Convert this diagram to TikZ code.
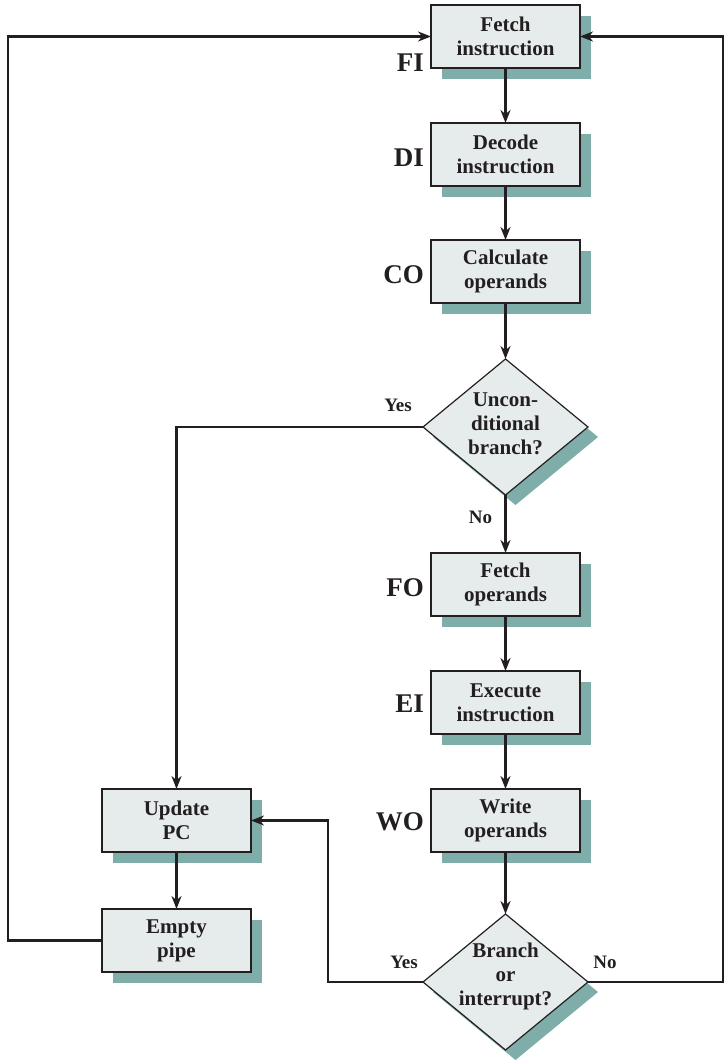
\documentclass[tikz,border=0pt]{standalone}
\usepackage{fontspec}
\setmainfont{Liberation Serif}
\usetikzlibrary{positioning, shapes.geometric, shadows, arrows.meta}
\definecolor{boxfill}{HTML}{E6ECEC}
\definecolor{shade}{HTML}{7FADA9}
\definecolor{ink}{HTML}{231F20}

\begin{document}
\begin{tikzpicture}[
    x=1pt, y=-1pt,
    box/.style={rectangle, draw=ink, line width=1.2pt, fill=boxfill,
                minimum width=149pt, minimum height=63pt, inner sep=0pt,
                outer sep=0pt, align=center, text=ink,
                font=\fontsize{21}{24}\selectfont\bfseries,
                drop shadow={shadow xshift=11pt, shadow yshift=-11pt,
                             fill=shade, opacity=1}},
    decision/.style={diamond, draw=ink, line width=1.2pt, fill=boxfill,
                minimum width=165pt, minimum height=136pt, inner sep=0pt,
                outer sep=0pt,
                drop shadow={shadow xshift=10pt, shadow yshift=-10pt,
                             fill=shade, opacity=1}},
    dtext/.style={align=center, text=ink, inner sep=0pt,
                font=\fontsize{21}{24}\selectfont\bfseries},
    stage/.style={font=\fontsize{27}{27}\selectfont\bfseries, text=ink,
                inner sep=0pt},
    answer/.style={font=\fontsize{19}{19}\selectfont\bfseries, text=ink,
                inner sep=0pt},
    arrow/.style={-{Stealth[length=13pt, width=10pt]}, line width=2.6pt,
                draw=ink},
]
\useasboundingbox (0,0) rectangle (725,1062);

% main column
\node[box] (fetchi) at (505.5,36.5) {Fetch\\instruction};
\node[box, below=55pt of fetchi] (decodei) {Decode\\instruction};
\node[box, below=54pt of decodei] (calcop) {Calculate\\operands};
\node[decision, below=56pt of calcop,
      label={[dtext, yshift=3pt]center:Uncon-\\ditional\\branch?}] (uncond) {};
\node[box, below=58pt of uncond] (fetcho) {Fetch\\operands};
\node[box, below=55pt of fetcho] (execi) {Execute\\instruction};
\node[box, below=55pt of execi] (writeo) {Write\\operands};
\node[decision, below=62pt of writeo,
      label={[dtext, yshift=6pt]center:Branch\\or\\interrupt?}] (brint) {};

% side column
\node[box, left=180pt of writeo] (updpc) {Update\\PC};
\node[box, below=57pt of updpc] (emptyp) {Empty\\pipe};

% stage labels
\node[stage, anchor=base east] (filab) at ([xshift=-7pt, yshift=-4pt]fetchi.south west) {FI};
\node[stage, anchor=east] (dilab) at ([xshift=-7pt, yshift=-3pt]decodei.west) {DI};
\node[stage, anchor=east] (colab) at ([xshift=-7pt, yshift=-3pt]calcop.west) {CO};
\node[stage, anchor=east] (folab) at ([xshift=-7pt, yshift=-3pt]fetcho.west) {FO};
\node[stage, anchor=east] (eilab) at ([xshift=-7pt, yshift=-1pt]execi.west) {EI};
\node[stage, anchor=east] (wolab) at ([xshift=-7pt, yshift=-1pt]writeo.west) {WO};

% turning points
\coordinate[left=94pt of emptyp.west] (lfturn);
\coordinate[right=135pt of brint.east] (rtturn);
\coordinate[left=95pt of brint.west] (midturn);

\draw[arrow] (fetchi) -- (decodei);
\draw[arrow] (decodei) -- (calcop);
\draw[arrow] (calcop) -- (uncond);
\draw[arrow] (uncond) -- node[answer, pos=0.38, left=12pt] {No} (fetcho);
\draw[arrow] (fetcho) -- (execi);
\draw[arrow] (execi) -- (writeo);
\draw[arrow] (writeo) -- (brint);

\draw[arrow] (uncond.west) node[answer, anchor=south east, xshift=-10pt, yshift=14pt] {Yes}
    -| (updpc.north);
\draw[arrow] (updpc) -- (emptyp);
\draw[arrow] (emptyp.west) -- (lfturn) |- (fetchi.west);
\draw[arrow] (brint.west) node[answer, anchor=south east, xshift=-4pt, yshift=12pt] {Yes}
    -- (midturn) |- (updpc.east);
\draw[arrow] (brint.east) node[answer, anchor=south west, xshift=4pt, yshift=12pt] {No}
    -- (rtturn) |- (fetchi.east);
\end{tikzpicture}
\end{document}
